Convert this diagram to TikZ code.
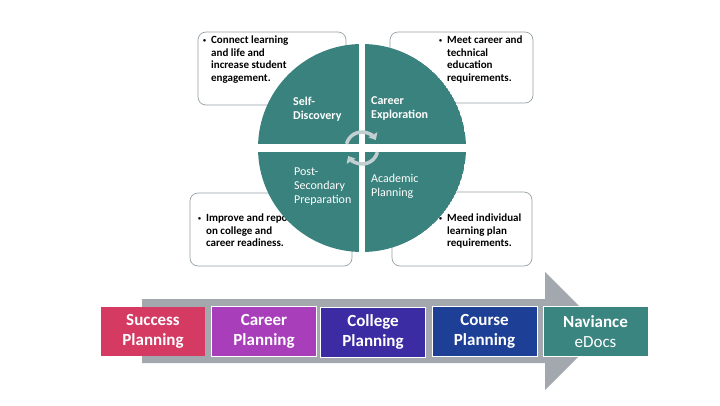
\documentclass[tikz,border=0pt]{standalone}
\usepackage{fontspec}
\setmainfont{Carlito}
\usetikzlibrary{positioning,arrows.meta,calc}

\definecolor{wheelteal}{RGB}{58,130,125}
\definecolor{boxgray}{RGB}{150,160,165}
\definecolor{cyclegray}{RGB}{196,207,210}
\definecolor{arrowgray}{RGB}{163,168,174}
\definecolor{successred}{RGB}{212,58,98}
\definecolor{careerpurple}{RGB}{169,62,187}
\definecolor{collegeindigo}{RGB}{59,44,163}
\definecolor{coursenavy}{RGB}{30,63,150}
\definecolor{naviteal}{RGB}{58,133,128}

\newcommand{\smbul}{\raisebox{0.25ex}{\fontsize{6}{6}\selectfont\textbullet}\ \ }
\newcommand{\smind}{\hphantom{\smbul}}

\begin{document}
\begin{tikzpicture}[x=1pt, y=-1pt, >=Latex,
  infobox/.style={draw=boxgray, rounded corners=8pt, line width=0.7pt, inner sep=0pt},
  infotext/.style={anchor=north west, inner sep=0pt, align=left, font=\fontsize{11}{12.5}\selectfont\bfseries},
  quadlabel/.style={anchor=west, inner sep=0pt, align=left, text=white, font=\fontsize{12}{14}\selectfont},
  planbox/.style={draw=white, line width=1pt, minimum width=105pt, minimum height=50pt, inner sep=0pt, align=center, text=white, font=\fontsize{17}{20}\selectfont\bfseries}]
  \useasboundingbox (0,0) rectangle (720,405);

  % text boxes behind the wheel
  \node[infobox, minimum width=148pt, minimum height=73pt] (tlBox) at (272,68.5) {};
  \node[infobox, minimum width=143pt, minimum height=71pt] (trBox) at (461.5,67.5) {};
  \node[infobox, minimum width=162pt, minimum height=73pt] (blBox) at (271,229.5) {};
  \node[infobox, minimum width=140pt, minimum height=74pt] (brBox) at (462,229) {};

  \node[infotext] (tlText) at (203,36) {\smbul Connect learning\\\smind and life and\\\smind increase student\\\smind engagement.};
  \node[infotext] (trText) at (439,36) {\smbul Meet career and\\\smind technical\\\smind education\\\smind requirements.};
  \node[infotext] (blText) at (198,214) {\smbul Improve and report\\\smind on college and\\\smind career readiness.};
  \node[infotext] (brText) at (439,214) {\smbul Meed individual\\\smind learning plan\\\smind requirements.};

  % the wheel
  \coordinate (hub) at (362,148);
  \begin{scope}
    \clip (hub) circle[radius=104];
    \fill[wheelteal] (hub) circle[radius=104];
    \fill[white] (359,40) rectangle (365,256);
    \fill[white] (254,144) rectangle (470,152);
  \end{scope}

  \node[quadlabel, font=\fontsize{12}{14}\selectfont\bfseries] (selfD) at (293,109) {Self-\\Discovery};
  \node[quadlabel, font=\fontsize{12}{14}\selectfont\bfseries] (careerE) at (371,109) {Career\\Exploration};
  \node[quadlabel] (postS) at (294,187) {Post-\\Secondary\\Preparation};
  \node[quadlabel] (acadP) at (371,186.5) {Academic\\Planning};

  \draw[cyclegray, line width=3.5pt, -{Triangle[length=6pt,width=10pt]}] ($(hub)+(-165:16)$) arc[start angle=-165, end angle=-30, radius=16];
  \draw[cyclegray, line width=3.5pt, -{Triangle[length=6pt,width=10pt]}] ($(hub)+(15:16)$) arc[start angle=15, end angle=150, radius=16];

  % the road
  \fill[arrowgray] (142,299) -- (545,299) -- (545,272) -- (604,331) -- (545,390) -- (545,363) -- (142,363) -- cycle;

  \node[planbox, fill=successred, draw=none, minimum width=104pt, minimum height=49pt] (success) at (153,331.5) {Success\\Planning};
  \node[planbox, fill=careerpurple] (career) at (264,331) {Career\\Planning};
  \node[planbox, fill=collegeindigo] (college) at (373,332) {College\\Planning};
  \node[planbox, fill=coursenavy] (course) at (484.5,331.5) {Course\\Planning};
  \node[planbox, fill=naviteal] (naviance) at (595.5,331.5) {Naviance\\{\mdseries eDocs}};
\end{tikzpicture}
\end{document}
